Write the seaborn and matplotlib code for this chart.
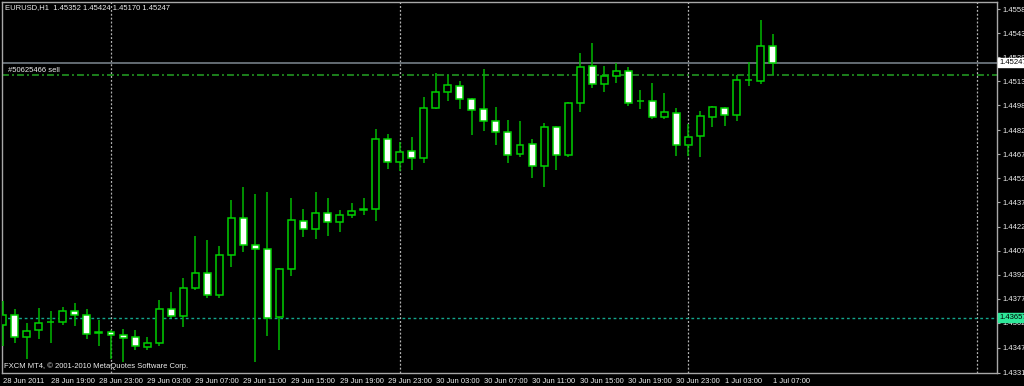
import matplotlib
matplotlib.use("Agg")
import matplotlib.pyplot as plt
import seaborn as sns
import numpy as np
import pandas as pd

# ---------------- data ----------------
symbol_title = "EURUSD,H1  1.45352 1.45424 1.45170 1.45247"
copyright_text = "FXCM MT4, \u00a9 2001-2010 MetaQuotes Software Corp."
first_bar = "2011-06-28 15:00"
next_day_end = "2011-07-02 00:00"

opens = [1.43609, 1.43672, 1.43539, 1.43580, 1.43632, 1.43630, 1.43698, 1.43672, 1.43560, 1.43569,
         1.43551, 1.43535, 1.43477, 1.43497, 1.43709, 1.43667, 1.43844, 1.43937, 1.43798, 1.44045,
         1.44279, 1.44107, 1.44088, 1.43661, 1.43958, 1.44262, 1.44211, 1.44308, 1.44254, 1.44294,
         1.44329, 1.44335, 1.44771, 1.44628, 1.44693, 1.44652, 1.44963, 1.45063, 1.45104, 1.45021,
         1.44955, 1.44880, 1.44814, 1.44677, 1.44739, 1.44600, 1.44847, 1.44669, 1.44994, 1.45228,
         1.45114, 1.45164, 1.45195, 1.45007, 1.45009, 1.44911, 1.44936, 1.44735, 1.44787, 1.44911,
         1.44967, 1.44922, 1.45139, 1.45135, 1.45352]

highs = [1.43759, 1.43709, 1.43626, 1.43719, 1.43698, 1.43726, 1.43750, 1.43709, 1.43642, 1.43578,
         1.43589, 1.43578, 1.43539, 1.43767, 1.43816, 1.43906, 1.44165, 1.44144, 1.44103, 1.44389,
         1.44472, 1.44429, 1.44443, 1.43968, 1.44404, 1.44335, 1.44438, 1.44404, 1.44331, 1.44373,
         1.44404, 1.44835, 1.44804, 1.44752, 1.44783, 1.45032, 1.45181, 1.45171, 1.45135, 1.45027,
         1.45206, 1.44970, 1.44891, 1.44880, 1.44772, 1.44870, 1.44853, 1.44999, 1.45305, 1.45368,
         1.45226, 1.45243, 1.45222, 1.45077, 1.45119, 1.45057, 1.44963, 1.44866, 1.44948, 1.44978,
         1.44973, 1.45171, 1.45253, 1.45513, 1.45424]

lows = [1.43479, 1.43502, 1.43402, 1.43527, 1.43502, 1.43611, 1.43605, 1.43527, 1.43481, 1.43398,
        1.43381, 1.43456, 1.43456, 1.43481, 1.43657, 1.43601, 1.43829, 1.43782, 1.43782, 1.43972,
        1.44065, 1.43381, 1.43543, 1.43456, 1.43916, 1.44159, 1.44149, 1.44165, 1.44190, 1.44279,
        1.44300, 1.44258, 1.44584, 1.44569, 1.44580, 1.44621, 1.44959, 1.45009, 1.44959, 1.44793,
        1.44822, 1.44735, 1.44621, 1.44656, 1.44528, 1.44472, 1.44580, 1.44659, 1.44942, 1.45088,
        1.45067, 1.45119, 1.44978, 1.44957, 1.44895, 1.44895, 1.44662, 1.44662, 1.44659, 1.44845,
        1.44849, 1.44886, 1.45102, 1.45114, 1.45170]

closes = [1.43672, 1.43539, 1.43576, 1.43626, 1.43628, 1.43701, 1.43672, 1.43558, 1.43569, 1.43549,
          1.43530, 1.43481, 1.43502, 1.43709, 1.43665, 1.43844, 1.43937, 1.43798, 1.44047, 1.44277,
          1.44107, 1.44088, 1.43657, 1.43958, 1.44264, 1.44211, 1.44310, 1.44256, 1.44295, 1.44323,
          1.44332, 1.44771, 1.44628, 1.44690, 1.44652, 1.44965, 1.45063, 1.45106, 1.45021, 1.44951,
          1.44884, 1.44814, 1.44669, 1.44735, 1.44600, 1.44843, 1.44669, 1.44994, 1.45218, 1.45114,
          1.45164, 1.45195, 1.44998, 1.45009, 1.44911, 1.44939, 1.44735, 1.44783, 1.44914, 1.44970,
          1.44922, 1.45139, 1.45141, 1.45351, 1.45247]

time_labels = ["28 Jun 2011", "28 Jun 19:00", "28 Jun 23:00", "29 Jun 03:00", "29 Jun 07:00",
               "29 Jun 11:00", "29 Jun 15:00", "29 Jun 19:00", "29 Jun 23:00", "30 Jun 03:00",
               "30 Jun 07:00", "30 Jun 11:00", "30 Jun 15:00", "30 Jun 19:00", "30 Jun 23:00",
               "1 Jul 03:00", "1 Jul 07:00"]

price_ticks = [1.45580, 1.45430, 1.45280, 1.45130, 1.44980, 1.44825, 1.44675, 1.44525,
               1.44375, 1.44225, 1.44075, 1.43925, 1.43775, 1.43625, 1.43470, 1.43315]

bid_price = 1.45247
order_price = 1.45172
order_label = "#50625466 sell"
level_price = 1.43657

# ---------------- style ----------------
sns.set_theme(style="dark", rc={"axes.facecolor": "black", "figure.facecolor": "black",
                                "axes.grid": False})
plt.rcParams["font.family"] = ["Liberation Sans", "DejaVu Sans"]
plt.rcParams["lines.scale_dashes"] = False

GREEN = "#00d000"
WICK = "#00b800"
TEXT = "#eeeeee"
FRAME = "#a8a8a8"
FS = 5.5

W, H = 1024, 386
fig = plt.figure(figsize=(W / 100, H / 100), dpi=100, facecolor="black")
ax = fig.add_axes([2 / W, 13 / H, 995 / W, 371 / H])
ax.set_facecolor("black")

df = pd.DataFrame({"time": pd.date_range(first_bar, periods=len(opens), freq="h"),
                   "open": opens, "high": highs, "low": lows, "close": closes})
df["x"] = np.arange(len(df))
bull = df["close"] >= df["open"]

# wicks
ax.vlines(df["x"], df["low"], df["high"], color=WICK, lw=1.1, zorder=3)
# bodies
body_h = (df["close"] - df["open"]).to_numpy()
body_h = np.where(np.abs(body_h) < 1e-6, 1e-6, body_h)
ax.bar(df["x"], body_h, bottom=df["open"], width=0.58,
       color=np.where(bull, "black", "white"), edgecolor=GREEN, linewidth=1.1, zorder=4)

# period separators (midnights)
start = pd.Timestamp(first_bar)
mids = pd.date_range(pd.Timestamp("2011-06-29"), pd.Timestamp(next_day_end), freq="D")
for m in mids:
    ax.axvline((m - start) / pd.Timedelta(hours=1), color="#b4b4b4", lw=0.9,
               ls=(0, (1.4, 1.4)), zorder=2)

# horizontal lines
ax.axhline(bid_price, color="#6b747c", lw=1.3, zorder=2)
ax.axhline(order_price, color="#1f8a1f", lw=1.3, ls=(0, (5.0, 2.2, 1.4, 2.2)), zorder=2)
ax.axhline(level_price, color="#13a58c", lw=1.0, ls=(0, (2.0, 2.0)), zorder=2)

ax.text(6 / 995, order_price + 0.00004, order_label, transform=ax.get_yaxis_transform(),
        color=TEXT, fontsize=FS, va="bottom", ha="left")

# limits
ax.set_xlim(-0.06, 82.65)
ax.set_ylim(1.43312, 1.45625)

# axes
for s in ax.spines.values():
    s.set_color(FRAME)
    s.set_linewidth(1.0)
ax.yaxis.tick_right()
ax.set_yticks(price_ticks)
ax.set_yticklabels([f"{p:.5f}" for p in price_ticks])
ax.set_xticks(df["x"][::4])
ax.set_xticklabels(time_labels, ha="left")
ax.tick_params(axis="both", colors=FRAME, labelcolor=TEXT, labelsize=FS,
               length=2.2, width=0.8, direction="out")
ax.tick_params(axis="y", pad=1.5)
ax.tick_params(axis="x", pad=1.2)

# price boxes on the axis
ax.text(1.0025, bid_price, f"{bid_price:.5f}", transform=ax.get_yaxis_transform(),
        fontsize=FS, color="black", va="center", ha="left", clip_on=False, zorder=10,
        bbox=dict(boxstyle="square,pad=0.15", fc="white", ec="white"))
ax.text(1.0025, level_price, f"{level_price:.5f}", transform=ax.get_yaxis_transform(),
        fontsize=FS, color="black", va="center", ha="left", clip_on=False, zorder=10,
        bbox=dict(boxstyle="square,pad=0.15", fc="#2ee89a", ec="#2ee89a"))

# captions
fig.text(5 / W, 1 - 7.5 / H, symbol_title, color=TEXT, fontsize=FS, va="center", ha="left")
fig.text(4 / W, 1 - 366 / H, copyright_text, color=TEXT, fontsize=FS, va="center", ha="left")

fig.savefig("out.png", dpi=100, facecolor="black")
